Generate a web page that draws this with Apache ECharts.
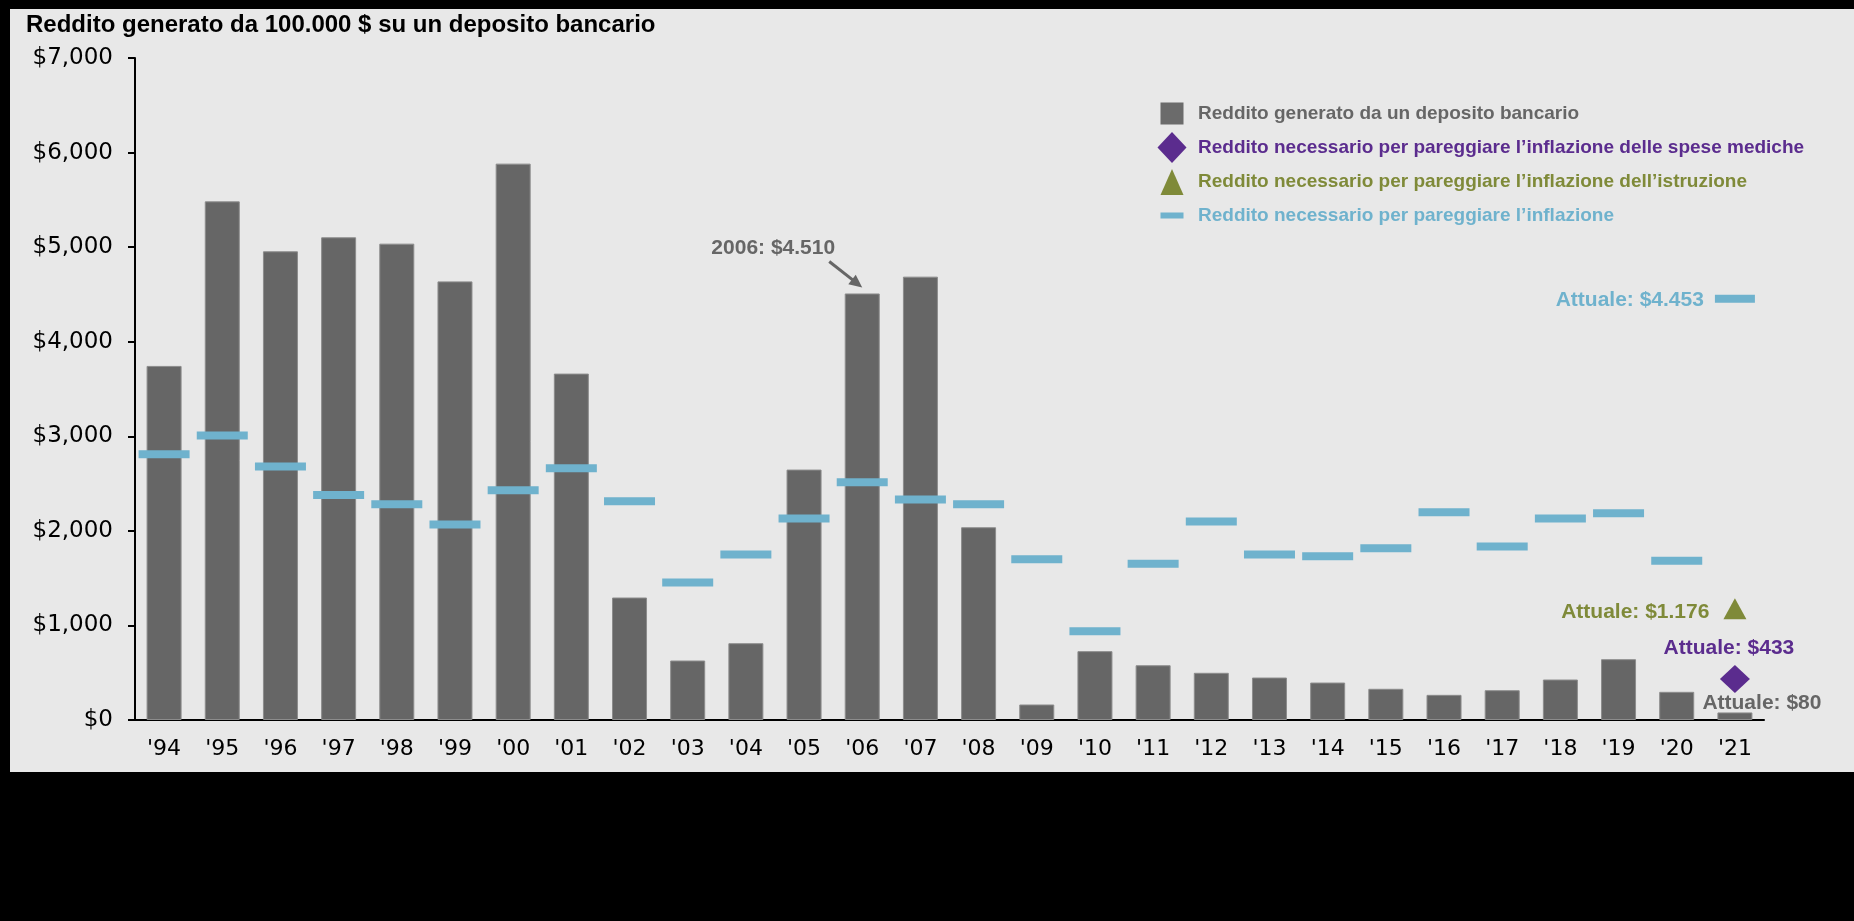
<!DOCTYPE html>
<html>
<head>
<meta charset="utf-8">
<script src="https://cdn.jsdelivr.net/npm/echarts@6.0.0/dist/echarts.min.js"></script>
<style>
  html, body { margin: 0; padding: 0; background: #000; }
  #main { width: 1854px; height: 921px; }
</style>
</head>
<body>
<div id="main"></div>
<script>
// anni
var years = ["'94", "'95", "'96", "'97", "'98", "'99", "'00", "'01", "'02", "'03", "'04", "'05", "'06", "'07",
  "'08", "'09", "'10", "'11", "'12", "'13", "'14", "'15", "'16", "'17", "'18", "'19", "'20", "'21"];
// reddito da deposito bancario ($)
var bankIncome = [3744, 5484, 4956, 5104, 5037, 4638, 5883, 3663, 1295, 629, 812, 2648, 4510, 4688,
  2038, 164, 728, 579, 499, 449, 396, 330, 266, 315, 428, 643, 298, 80];
// reddito necessario per pareggiare l'inflazione ($)
var inflationNeeded = [2810, 3007, 2680, 2380, 2281, 2067, 2430, 2662, 2313, 1453, 1749, 2130, 2514, 2331,
  2281, 1700, 939, 1651, 2098, 1749, 1732, 1816, 2197, 1834, 2130, 2186, 1683, 4453];
// valori attuali (solo '21)
var medicalNow = 433;
var educationNow = 1176;
var yTicks = [0, 1000, 2000, 3000, 4000, 5000, 6000, 7000];

var seriesNames = [
  'Reddito generato da un deposito bancario',
  'Reddito necessario per pareggiare l\u2019inflazione delle spese mediche',
  'Reddito necessario per pareggiare l\u2019inflazione dell\u2019istruzione',
  'Reddito necessario per pareggiare l\u2019inflazione'
];
var annotation2006 = '2006: $4.510';
var labelBankNow = 'Attuale: $80';
var labelMedicalNow = 'Attuale: $433';
var labelEducationNow = 'Attuale: $1.176';
var labelInflationNow = 'Attuale: $4.453';

var GREY = '#666666';
var PURPLE = '#5b2c8e';
var OLIVE = '#7f8a39';
var BLUE = '#6fb2cd';
var FONT = 'Arial, "Liberation Sans", sans-serif';
var AXISFONT = '"DejaVu Sans", sans-serif';

// legenda: font stretto se disponibile
function hasFont(name) {
  var c = document.createElement('canvas').getContext('2d');
  var t = 'Reddito necessario mmmwwwiii';
  c.font = '40px monospace';
  var a = c.measureText(t).width;
  c.font = '40px "' + name + '", monospace';
  return c.measureText(t).width !== a;
}
var narrow = hasFont('Liberation Sans Narrow');
var legendFont = narrow
  ? { fontFamily: '"Liberation Sans Narrow"', fontSize: 23, fontWeight: 'bold' }
  : { fontFamily: FONT, fontSize: 19, fontWeight: 'bold' };

var last = years.length - 1;

var barData = bankIncome.map(function (v, i) {
  if (i === last) {
    return {
      value: v,
      label: {
        show: true, position: 'top', distance: 0, offset: [27, 1],
        formatter: labelBankNow, color: GREY, fontSize: 21, fontWeight: 'bold', fontFamily: FONT
      }
    };
  }
  return v;
});

var inflData = inflationNeeded.map(function (v, i) {
  if (i === last) {
    return {
      value: v,
      symbolSize: [40, 8],
      label: {
        show: true, position: 'left', distance: 11, offset: [0, 1],
        formatter: labelInflationNow, color: BLUE, fontSize: 21, fontWeight: 'bold', fontFamily: FONT
      }
    };
  }
  return v;
});

function onlyLast(v) {
  return years.map(function (y, i) { return i === last ? v : '-'; });
}

var medicalData = onlyLast(medicalNow);
var educationData = onlyLast(educationNow);

var chart = echarts.init(document.getElementById('main'));

chart.setOption({
  animation: false,
  backgroundColor: '#000',
  title: {
    text: 'Reddito generato da 100.000 $ su un deposito bancario',
    left: 26,
    top: 13,
    padding: 0,
    textStyle: { fontFamily: FONT, fontSize: 24, fontWeight: 'bold', color: '#000' }
  },
  legend: {
    orient: 'vertical',
    left: 1157,
    top: 98,
    padding: 0,
    itemWidth: 36,
    itemHeight: 31,
    itemGap: 3,
    selectedMode: false,
    textStyle: legendFont,
    data: [
      { name: seriesNames[0], icon: 'path://M0,0M36,31M3.5,4.5h23v22h-23z',
        itemStyle: { color: '#6b6b6b', borderWidth: 0 }, textStyle: { color: GREY } },
      { name: seriesNames[1], icon: 'path://M0,0M36,31M15,0L29.5,15.5L15,31L0.5,15.5Z', textStyle: { color: PURPLE } },
      { name: seriesNames[2], icon: 'path://M0,0M36,31M15,3L26.5,29L3.5,29Z', textStyle: { color: OLIVE } },
      { name: seriesNames[3], icon: 'path://M0,0M36,31M3.5,12.5h23v6h-23z', textStyle: { color: BLUE } }
    ]
  },
  grid: { left: 135, right: 90, top: 58, bottom: 201 },
  xAxis: {
    type: 'category',
    data: years,
    boundaryGap: true,
    axisLine: { lineStyle: { color: '#000', width: 2 } },
    axisTick: { alignWithLabel: false, length: 7, lineStyle: { color: '#000', width: 2 } },
    axisLabel: { color: '#000', fontSize: 22, fontFamily: AXISFONT, margin: 18, interval: 0 }
  },
  yAxis: {
    type: 'value',
    min: yTicks[0],
    max: yTicks[yTicks.length - 1],
    interval: 1000,
    splitLine: { show: false },
    axisLine: { show: true, lineStyle: { color: '#000', width: 2 } },
    axisTick: { show: true, length: 7, lineStyle: { color: '#000', width: 2 } },
    axisLabel: {
      color: '#000', fontSize: 23, fontFamily: AXISFONT, margin: 22,
      formatter: function (v) { return '$' + v.toLocaleString('en-US'); }
    }
  },
  series: [
    {
      name: seriesNames[0],
      type: 'bar',
      barWidth: 35,
      itemStyle: { color: GREY, borderColor: '#8c8c8c', borderWidth: 1 },
      data: barData,
      z: 2
    },
    {
      name: seriesNames[1],
      type: 'scatter',
      symbol: 'diamond',
      symbolSize: [30, 28],
      itemStyle: { color: PURPLE, opacity: 1 },
      label: {
        show: true, position: 'top', distance: 8, offset: [-6, 2],
        formatter: labelMedicalNow, color: PURPLE, fontSize: 21, fontWeight: 'bold', fontFamily: FONT
      },
      data: medicalData,
      z: 4
    },
    {
      name: seriesNames[2],
      type: 'scatter',
      symbol: 'triangle',
      symbolSize: [23, 21],
      itemStyle: { color: OLIVE, opacity: 1 },
      label: {
        show: true, position: 'left', distance: 14, offset: [0, 3],
        formatter: labelEducationNow, color: OLIVE, fontSize: 21, fontWeight: 'bold', fontFamily: FONT
      },
      data: educationData,
      z: 4
    },
    {
      name: seriesNames[3],
      type: 'scatter',
      symbol: 'rect',
      symbolSize: [51, 8],
      itemStyle: { color: BLUE, opacity: 1 },
      data: inflData,
      z: 3
    }
  ]
});

// annotazione 2006 con freccia, posizionata rispetto alla barra
var i06 = years.indexOf("'06");
var p = chart.convertToPixel({ seriesIndex: 0 }, [i06, bankIncome[i06]]);
var ax = p[0] - 33, ay = p[1] - 32;   // inizio freccia
var bx = p[0], by = p[1] - 6;         // punta freccia
var dx = bx - ax, dy = by - ay, len = Math.sqrt(dx * dx + dy * dy);
var ux = dx / len, uy = dy / len;
var headL = 13, headW = 6;
var hx = bx - ux * headL, hy = by - uy * headL;

chart.setOption({
  graphic: [
    {
      type: 'rect', z: -100, silent: true,
      shape: { x: 10, y: 9, width: 1844, height: 763 },
      style: { fill: '#e8e8e8' }
    },
    {
      type: 'text', z: 10, silent: true,
      x: p[0] - 89, y: p[1] - 45,
      style: {
        text: annotation2006, fill: GREY, font: 'bold 21px ' + FONT,
        align: 'center', verticalAlign: 'middle'
      }
    },
    {
      type: 'line', z: 10, silent: true,
      shape: { x1: ax, y1: ay, x2: hx + ux * 2, y2: hy + uy * 2 },
      style: { stroke: GREY, lineWidth: 3 }
    },
    {
      type: 'polygon', z: 10, silent: true,
      shape: { points: [[bx, by], [hx - uy * headW, hy + ux * headW], [hx + uy * headW, hy - ux * headW]] },
      style: { fill: GREY }
    }
  ]
});
</script>
</body>
</html>
